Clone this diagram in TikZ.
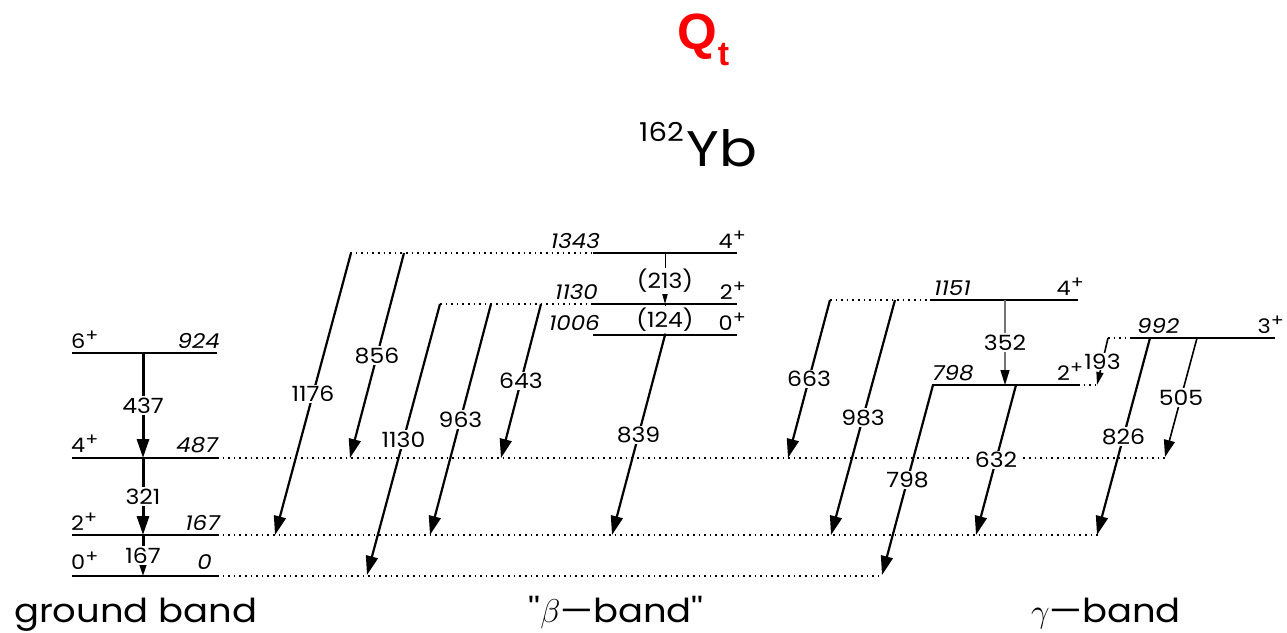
\RequirePackage{fix-cm}
\documentclass[tikz,border=0pt]{standalone}
\usepackage{fontspec}
\setmainfont{Poppins}[FakeStretch=1.12]
\newfontfamily\qfont{Liberation Sans}
\newfontfamily\plainpop{Poppins}[FakeStretch=1.12]
\usetikzlibrary{arrows.meta}
\newcommand\spinplus{\raisebox{6.5pt}{\fontsize{17}{17}\selectfont +}}
\tikzset{
  lvl/.style={line width=1.4pt},
  ext/.style={line width=1.1pt, dash pattern=on 1.6pt off 4pt},
  tr/.style={line width=2.2pt, -{Triangle[length=19pt,width=12pt]}},
  thintr/.style={line width=1.6pt, -{Triangle[length=17pt,width=11pt]}},
  gtr/.style={line width=3pt, -{Triangle[length=19pt,width=12pt]}},
  smalltr/.style={line width=1pt, -{Triangle[length=13pt,width=7pt]}},
  graytr/.style={line width=1.4pt, draw=black!55, -{Triangle[length=15pt,width=9pt,color=black]}},
  tlab/.style={fill=white, inner sep=1.5pt, font=\fontsize{21}{21}\selectfont},
  spin/.style={inner sep=0pt, font=\fontsize{20}{20}\selectfont},
  en/.style={inner sep=0pt, font=\fontsize{20.5}{20.5}\selectfont\itshape},
  band/.style={inner sep=0pt, font=\fontsize{33}{33}\selectfont},
}
\begin{document}
\begin{tikzpicture}[x=1pt,y=-1pt]
\useasboundingbox (0,0) rectangle (1287,632);

% titles
\node[anchor=base west, inner sep=0, text=red, font=\qfont\bfseries\fontsize{51}{51}\selectfont] (qt) at (677,49) {Q\kern1pt\raisebox{-16pt}{\fontsize{34}{34}\selectfont t}};
\node[anchor=base west, inner sep=0, font=\fontsize{50}{50}\selectfont] (nuc) at (639,166) {\raisebox{25pt}{\fontsize{26}{26}\selectfont 162}\kern3pt Yb};

% ---------- extension (dotted) lines ----------
\draw[ext] (217,458) coordinate (g4e) -- (1165,458) coordinate (g4end);
\draw[ext] (217,535) coordinate (g2e) -- (1100,535) coordinate (g2end);
\draw[ext] (217,576) coordinate (g0e) -- (882,576) coordinate (g0end);
\draw[ext] (350,253) -- (593,253);
\draw[ext] (440,304) -- (593,304);
\draw[ext] (830,300) -- (930,300);
\draw[ext] (1078,385) -- (1097,385);
\draw[ext] (1108,338) -- (1132,338);

% ---------- ground band ----------
\draw[lvl] (72,353) coordinate (g6a) -- (217,353) coordinate (g6b);
\draw[lvl] (72,458) coordinate (g4a) -- (217,458) coordinate (g4b);
\draw[lvl] (72,535) coordinate (g2a) -- (217,535) coordinate (g2b);
\draw[lvl] (72,576) coordinate (g0a) -- (217,576) coordinate (g0b);
\node[spin, anchor=base west] (s6) at (71,348) {6\spinplus};
\node[en, anchor=base east] (e6) at (220,348) {924};
\node[spin, anchor=base west] (s4) at (71,452) {4\spinplus};
\node[en, anchor=base east] (e4) at (218,452) {487};
\node[spin, anchor=base west] (s2) at (71,530) {2\spinplus};
\node[en, anchor=base east] (e2) at (220,530) {167};
\node[spin, anchor=base west] (s0) at (71,569) {0\spinplus};
\node[en, anchor=base east] (e0) at (212,569) {0};
\coordinate (G6) at (143,353);
\coordinate (G4) at (143,458);
\coordinate (G2) at (143,535);
\coordinate (G0) at (143,576);
\draw[gtr] (G6) -- node[tlab] (t437) {437} (G4);
\draw[gtr] (G4) -- node[tlab] (t321) {321} (G2);
\draw[gtr] (G2) -- node[tlab] (t167) {167} (G0);

% ---------- beta band ----------
\draw[lvl] (593,253) -- (737,253);
\draw[lvl] (593,304) -- (737,304);
\draw[lvl] (593,335) -- (737,335);
\node[en, anchor=base east] (eb4) at (600,248) {1343};
\node[spin, anchor=base east] (sb4) at (746,248) {4\spinplus};
\node[en, anchor=base east] (eb2) at (598,299) {1130};
\node[spin, anchor=base east] (sb2) at (746,299) {2\spinplus};
\node[en, anchor=base east] (eb0) at (600,330) {1006};
\node[spin, anchor=base east] (sb0) at (746,330) {0\spinplus};
\coordinate (B4a) at (351,253);
\coordinate (B4b) at (404,253);
\coordinate (B4c) at (665,253);
\coordinate (B2a) at (440,304);
\coordinate (B2b) at (491,304);
\coordinate (B2c) at (541,304);
\coordinate (B2d) at (665,304);
\coordinate (B0a) at (665,335);
\coordinate (T1176) at (275,535);
\coordinate (T856) at (350,458);
\coordinate (T1130) at (367,575);
\coordinate (T963) at (430,535);
\coordinate (T643) at (501,458);
\coordinate (T839) at (612,535);
\draw[tr] (B4a) -- node[tlab] (l1176) {1176} (T1176);
\draw[tr] (B4b) -- node[tlab] (l856) {856} (T856);
\draw[tr] (B2a) -- node[tlab] (l1130) {1130} (T1130);
\draw[tr] (B2b) -- node[tlab] (l963) {963} (T963);
\draw[tr] (B2c) -- node[tlab] (l643) {643} (T643);
\draw[tr] (B0a) -- node[tlab] (l839) {839} (T839);
\draw[smalltr] (B4c) -- node[tlab, pos=0.55] (l213) {(213)} (B2d);
\draw[smalltr] (B2d) -- node[tlab, pos=0.5] (l124) {(124)} (B0a);

% ---------- gamma band ----------
\draw[lvl] (930,300) -- (1078,300);
\draw[lvl] (932,385) -- (1078,385);
\draw[lvl] (1132,338) -- (1275,338);
\coordinate (C4a) at (830,300);
\coordinate (C4b) at (895,300);
\coordinate (C4c) at (1005,300);
\coordinate (C2a) at (933,385);
\coordinate (C2b) at (1005,385);
\coordinate (C2c) at (1016,385);
\coordinate (C2d) at (1097,385);
\coordinate (C3a) at (1108,338);
\coordinate (C3b) at (1150,338);
\coordinate (C3c) at (1197,338);
\coordinate (T663) at (788,458);
\coordinate (T983) at (831,535);
\coordinate (T798) at (882,575);
\coordinate (T632) at (976,535);
\coordinate (T826) at (1097,535);
\coordinate (T505) at (1165,457);
\draw[tr] (C4a) -- node[tlab] (l663) {663} (T663);
\draw[tr] (C4b) -- node[tlab] (l983) {983} (T983);
\draw[graytr] (C4c) -- node[tlab] (l352) {352} (C2b);
\draw[tr] (C2a) -- node[tlab] (l798) {798} (T798);
\draw[tr] (C2c) -- node[tlab] (l632) {632} (T632);
\draw[tr] (C3b) -- node[tlab] (l826) {826} (T826);
\draw[thintr] (C3c) -- node[tlab] (l505) {505} (T505);
\draw[smalltr, line width=1.6pt] (C3a) -- node[tlab, inner sep=0.5pt] (l193) {193} (C2d);
\node[en, anchor=base west] (ec4) at (934,295) {1151};
\node[spin, anchor=base east] (sc4) at (1084,295) {4\spinplus};
\node[en, anchor=base west] (ec2) at (932,380) {798};
\node[spin, anchor=base west] (sc2) at (1057,380) {2\spinplus};
\node[en, anchor=base west] (ec3) at (1137,333) {992};
\node[spin, anchor=base east] (sc3) at (1284,333) {3\spinplus};

% ---------- band names ----------
\node[band, anchor=base west] (nground) at (14,622) {ground band};
\node[band, anchor=base] (nbeta) at (616,622) {{\plainpop ''}$\beta$---band{\plainpop ''}};
\node[band, anchor=base] (ngamma) at (1106,622) {$\gamma$---band};
\end{tikzpicture}
\end{document}
